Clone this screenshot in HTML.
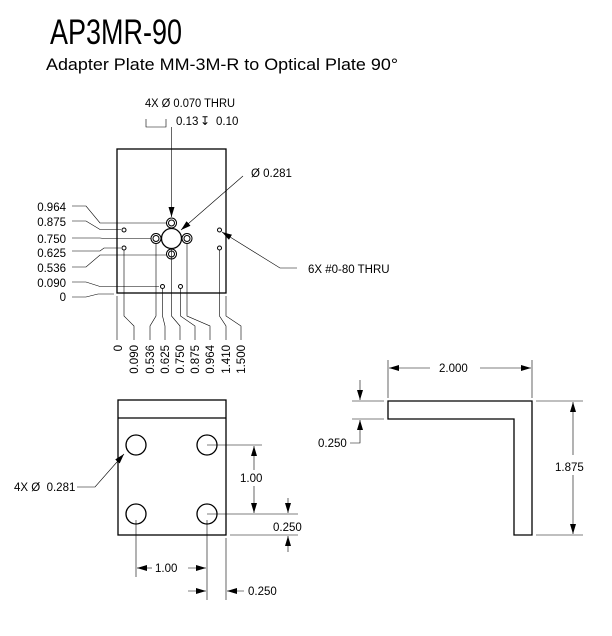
<!DOCTYPE html>
<html><head><meta charset="utf-8"><style>
html,body{margin:0;padding:0;background:#fff;}
svg{display:block;font-family:"Liberation Sans",sans-serif;}
</style></head><body>
<svg width="612" height="636" viewBox="0 0 612 636" xmlns="http://www.w3.org/2000/svg">
<defs>
<marker id="a" markerWidth="10" markerHeight="6" refX="10" refY="3" orient="auto" markerUnits="userSpaceOnUse">
<path d="M0,0 L10,3 L0,6 Z" fill="#000"/></marker>
</defs>
<text x="50" y="44" font-size="35" textLength="132" lengthAdjust="spacingAndGlyphs">AP3MR-90</text>
<text x="46" y="70" font-size="17" textLength="352" lengthAdjust="spacingAndGlyphs">Adapter Plate MM-3M-R to Optical Plate 90°</text>

<g fill="none" stroke="#000" stroke-width="1">
<rect x="117" y="149" width="109" height="144" stroke-width="1.3"/>
<circle cx="171.5" cy="238.5" r="10" stroke-width="1.3"/>
<circle cx="171.5" cy="223" r="5"/><circle cx="171.5" cy="223" r="3"/>
<circle cx="171.5" cy="254" r="5"/><circle cx="171.5" cy="254" r="3"/>
<circle cx="156" cy="238.5" r="5"/><circle cx="156" cy="238.5" r="3"/>
<circle cx="187" cy="238.5" r="5"/><circle cx="187" cy="238.5" r="3"/>
<circle cx="124" cy="230" r="2"/><circle cx="124" cy="248" r="2"/>
<circle cx="219.5" cy="230" r="2"/><circle cx="219.5" cy="248" r="2"/>
<circle cx="162.5" cy="286.5" r="2"/><circle cx="180.5" cy="286.5" r="2"/>
</g>
<g fill="none" stroke="#000" stroke-width="0.6">
<path d="M146,119 V127 H166 V119"/>
<line x1="171.5" y1="127" x2="171.5" y2="217" marker-end="url(#a)"/>
<line x1="243" y1="176" x2="181" y2="230" marker-end="url(#a)"/>
<path d="M297,268 H280 L222,232" marker-end="url(#a)"/>
<path d="M72,206 H86 L100,223 H166"/>
<path d="M72,221 H86 L100,229.5 H121"/>
<path d="M72,238 H100 L104,238.5 H151"/>
<path d="M72,251 H100 L104,248 H121"/>
<path d="M72,267 H86 L100,255 H166"/>
<path d="M72,282 H86 L100,286.5 H159"/>
<path d="M72,297 H86 L98,294 H114"/>
<path d="M117,296 V340"/>
<path d="M124,250 V316 L134,326 V340"/>
<path d="M156,243 V316 L150,326 V340"/>
<path d="M162.5,289 V316 L165,326 V340"/>
<path d="M171.5,249 V316 L180,326 V340"/>
<path d="M180.5,289 V316 L195,326 V340"/>
<path d="M187,243 V316 L210,326 V340"/>
<path d="M219.5,250 V316 L226,326 V340"/>
<path d="M226,296 V316 L241,326 V340"/>
</g>
<g font-size="11.5">
<text x="145" y="107" textLength="90" lengthAdjust="spacingAndGlyphs">4X Ø 0.070 THRU</text>
<text x="176" y="125">0.13</text>
<text x="200" y="125" font-size="12">↧</text>
<text x="216" y="125">0.10</text>
<text x="251" y="177">Ø 0.281</text>
<text x="308" y="273">6X #0-80 THRU</text>
<g text-anchor="end">
<text x="66" y="211">0.964</text><text x="66" y="226">0.875</text>
<text x="66" y="243">0.750</text><text x="66" y="257">0.625</text>
<text x="66" y="272">0.536</text><text x="66" y="287">0.090</text>
<text x="66" y="301">0</text>
</g>
<g text-anchor="end">
<text transform="translate(122,345) rotate(-90)">0</text>
<text transform="translate(138,345) rotate(-90)">0.090</text>
<text transform="translate(154,345) rotate(-90)">0.536</text>
<text transform="translate(169,345) rotate(-90)">0.625</text>
<text transform="translate(184,345) rotate(-90)">0.750</text>
<text transform="translate(199,345) rotate(-90)">0.875</text>
<text transform="translate(214,345) rotate(-90)">0.964</text>
<text transform="translate(230,345) rotate(-90)">1.410</text>
<text transform="translate(245,345) rotate(-90)">1.500</text>
</g>
</g>

<g fill="none" stroke="#000" stroke-width="1.3">
<rect x="118" y="400" width="108" height="135"/>
<line x1="118" y1="418" x2="226" y2="418"/>
<circle cx="136" cy="445" r="10"/><circle cx="207" cy="445" r="10"/>
<circle cx="136" cy="514" r="10"/><circle cx="207" cy="514" r="10"/>
</g>
<g fill="none" stroke="#000" stroke-width="0.6">
<line x1="207" y1="445" x2="262" y2="445"/>
<line x1="207" y1="514" x2="298" y2="514"/>
<line x1="230" y1="535" x2="298" y2="535"/>
<line x1="254" y1="470" x2="254" y2="446" marker-end="url(#a)"/>
<line x1="254" y1="486" x2="254" y2="513" marker-end="url(#a)"/>
<line x1="288" y1="498" x2="288" y2="513" marker-end="url(#a)"/>
<line x1="288" y1="552" x2="288" y2="536" marker-end="url(#a)"/>
<line x1="136" y1="520" x2="136" y2="577"/>
<line x1="207" y1="520" x2="207" y2="600"/>
<line x1="226" y1="538" x2="226" y2="600"/>
<line x1="152" y1="568" x2="137" y2="568" marker-end="url(#a)"/>
<line x1="188" y1="568" x2="206" y2="568" marker-end="url(#a)"/>
<line x1="188" y1="591" x2="206" y2="591" marker-end="url(#a)"/>
<line x1="244" y1="591" x2="227" y2="591" marker-end="url(#a)"/>
<path d="M77,487 H95 L124,454" marker-end="url(#a)"/>
</g>
<g font-size="11.5">
<text x="240" y="482">1.00</text>
<text x="273" y="531">0.250</text>
<text x="155" y="572">1.00</text>
<text x="248" y="595">0.250</text>
<text x="14" y="491" xml:space="preserve">4X Ø  0.281</text>
</g>

<path d="M388,401 H532 V535 H514 V419 H388 Z" fill="none" stroke="#000" stroke-width="1.3"/>
<g fill="none" stroke="#000" stroke-width="0.6">
<line x1="388" y1="360" x2="388" y2="398"/>
<line x1="532" y1="360" x2="532" y2="398"/>
<line x1="430" y1="368" x2="389" y2="368" marker-end="url(#a)"/>
<line x1="480" y1="368" x2="531" y2="368" marker-end="url(#a)"/>
<line x1="536" y1="401" x2="583" y2="401"/>
<line x1="536" y1="535" x2="583" y2="535"/>
<line x1="573" y1="455" x2="573" y2="402" marker-end="url(#a)"/>
<line x1="573" y1="475" x2="573" y2="534" marker-end="url(#a)"/>
<line x1="352" y1="401" x2="384" y2="401"/>
<line x1="352" y1="419" x2="384" y2="419"/>
<line x1="360" y1="380" x2="360" y2="400" marker-end="url(#a)"/>
<path d="M350,443 H360 V420" marker-end="url(#a)"/>
</g>
<g font-size="11.5">
<text x="439" y="372">2.000</text>
<text x="555" y="471">1.875</text>
<text x="318" y="447">0.250</text>
</g>
</svg>
</body></html>
